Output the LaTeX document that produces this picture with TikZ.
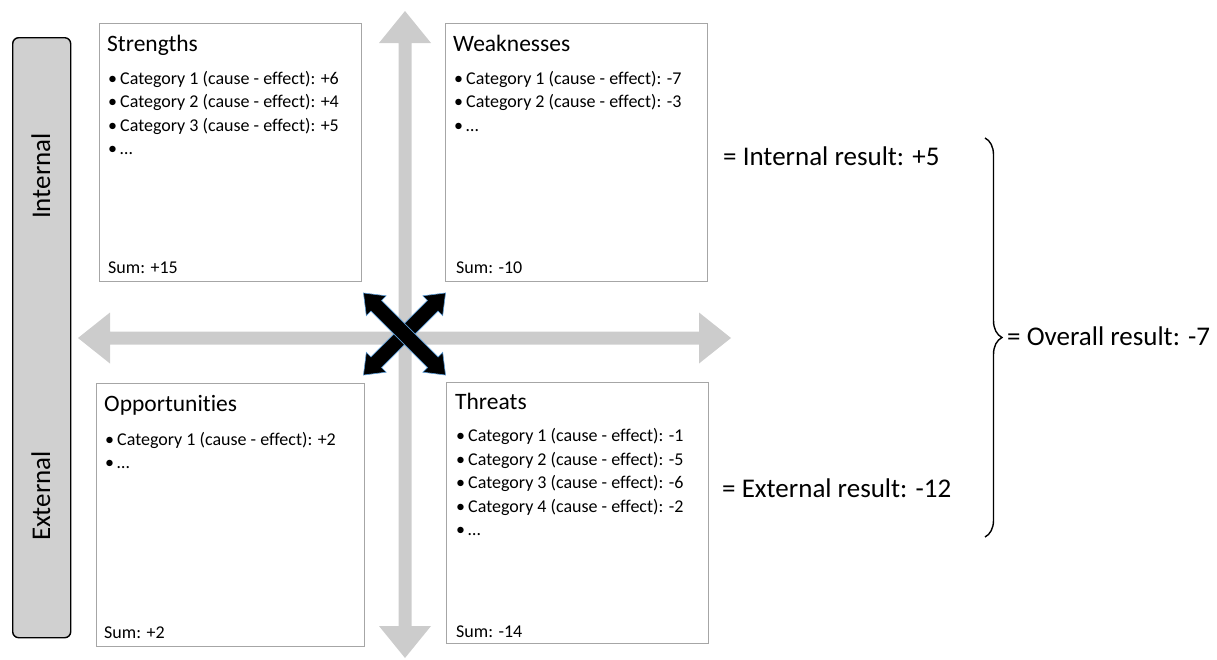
\documentclass[tikz,border=0pt]{standalone}
\usepackage{fontspec}
\setmainfont{Carlito}[Ligatures=NoCommon]
\usetikzlibrary{decorations.pathreplacing}

\definecolor{axisgray}{HTML}{CCCCCC}
\definecolor{bargray}{HTML}{D0D0D0}
\definecolor{framegray}{HTML}{A6A6A6}
\definecolor{edgeblue}{HTML}{5B9BD5}

% double-headed block arrow: style, centre, angle, half length,
% shaft half width, head half width, head length
\newcommand{\blockarrow}[7]{%
  \path[#1, shift={#2}, rotate=#3]
    (-#4,0) -- (-#4+#7,#6) -- (-#4+#7,#5) -- (#4-#7,#5) -- (#4-#7,#6)
    -- (#4,0) -- (#4-#7,-#6) -- (#4-#7,-#5) -- (-#4+#7,-#5)
    -- (-#4+#7,-#6) -- cycle;}
\newcommand{\bul}{\makebox[12pt][l]{\textbullet}}

\tikzset{
  panel/.style={draw=framegray, line width=1pt, fill=white, rectangle,
                inner sep=0pt, outer sep=0pt, anchor=north west},
  heading/.style={anchor=base west, inner sep=0pt, font=\fontsize{23.5}{28}\selectfont},
  entry/.style={anchor=base west, inner sep=0pt, font=\fontsize{18}{22}\selectfont},
  result/.style={anchor=base west, inner sep=0pt, font=\fontsize{27}{32}\selectfont},
  sidebar/.style={draw=black, line width=1.4pt, fill=bargray, rounded corners=6pt,
                  inner sep=0pt, anchor=north west},
  sidelabel/.style={anchor=base, rotate=90, inner sep=0pt, font=\fontsize{27}{32}\selectfont},
  axisarrow/.style={fill=axisgray},
  crossarrow/.style={fill=black, draw=edgeblue, line width=0.6pt, line join=miter},
}

\begin{document}
\begin{tikzpicture}[x=1pt, y=-1pt]
\useasboundingbox (0,0) rectangle (1217,659);

% grey axes
\blockarrow{axisarrow}{(405,334.5)}{90}{323.5}{6.5}{26}{32}
\blockarrow{axisarrow}{(404.5,338)}{0}{326.5}{6.5}{25.5}{32}

% side bar with the two row labels
\node[sidebar, minimum width=58pt, minimum height=600pt] (side) at (12,37) {};
\node[sidelabel] (lint) at (50,176) {Internal};
\node[sidelabel] (lext) at (50,496) {External};

% four quadrant panels
\node[panel, minimum width=262pt, minimum height=258pt] (S) at (99,23) {};
\node[panel, minimum width=262pt, minimum height=258pt] (W) at (445,23) {};
\node[panel, minimum width=268pt, minimum height=263pt] (O) at (96,383) {};
\node[panel, minimum width=262pt, minimum height=261pt] (T) at (446,382) {};

% Strengths
\node[heading] (s0) at (107,51) {Strengths};
\node[entry] (s1) at (108,84) {\bul Category 1 (cause - effect): +6};
\node[entry] (s2) at (108,107.5) {\bul Category 2 (cause - effect): +4};
\node[entry] (s3) at (108,131) {\bul Category 3 (cause - effect): +5};
\node[entry] (s4) at (108,154.5) {\bul …};
\node[entry] (ssum) at (108,273) {Sum: +15};

% Weaknesses
\node[heading] (w0) at (453,51) {Weaknesses};
\node[entry] (w1) at (454,84) {\bul Category 1 (cause - effect): -7};
\node[entry] (w2) at (454,107.5) {\bul Category 2 (cause - effect): -3};
\node[entry] (w3) at (454,131) {\bul …};
\node[entry] (wsum) at (456,273) {Sum: -10};

% Opportunities
\node[heading] (o0) at (104,411.5) {Opportunities};
\node[entry] (o1) at (105,445) {\bul Category 1 (cause - effect): +2};
\node[entry] (o2) at (105,468) {\bul …};
\node[entry] (osum) at (104,638) {Sum: +2};

% Threats
\node[heading] (t0) at (455,409) {Threats};
\node[entry] (t1) at (456,441.5) {\bul Category 1 (cause - effect): -1};
\node[entry] (t2) at (456,465) {\bul Category 2 (cause - effect): -5};
\node[entry] (t3) at (456,488.5) {\bul Category 3 (cause - effect): -6};
\node[entry] (t4) at (456,512) {\bul Category 4 (cause - effect): -2};
\node[entry] (t5) at (456,535.5) {\bul …};
\node[entry] (tsum) at (456,637) {Sum: -14};

% black crossing arrows at the centre
\blockarrow{crossarrow}{(404.5,334)}{45}{58}{7.5}{14}{18}
\blockarrow{crossarrow}{(404.5,334)}{-45}{58}{7.5}{14}{18}

% results
\node[result] (rint) at (723,165) {= Internal result: +5};
\node[result] (rext) at (722,497) {= External result: -12};
\coordinate (btop) at (985,138);
\coordinate (bbot) at (985,537);
\draw[decorate, decoration={brace, amplitude=17pt}, line width=1.4pt] (btop) -- (bbot);
\node[result] (rall) at (1007,345) {= Overall result: -7};
\end{tikzpicture}
\end{document}
